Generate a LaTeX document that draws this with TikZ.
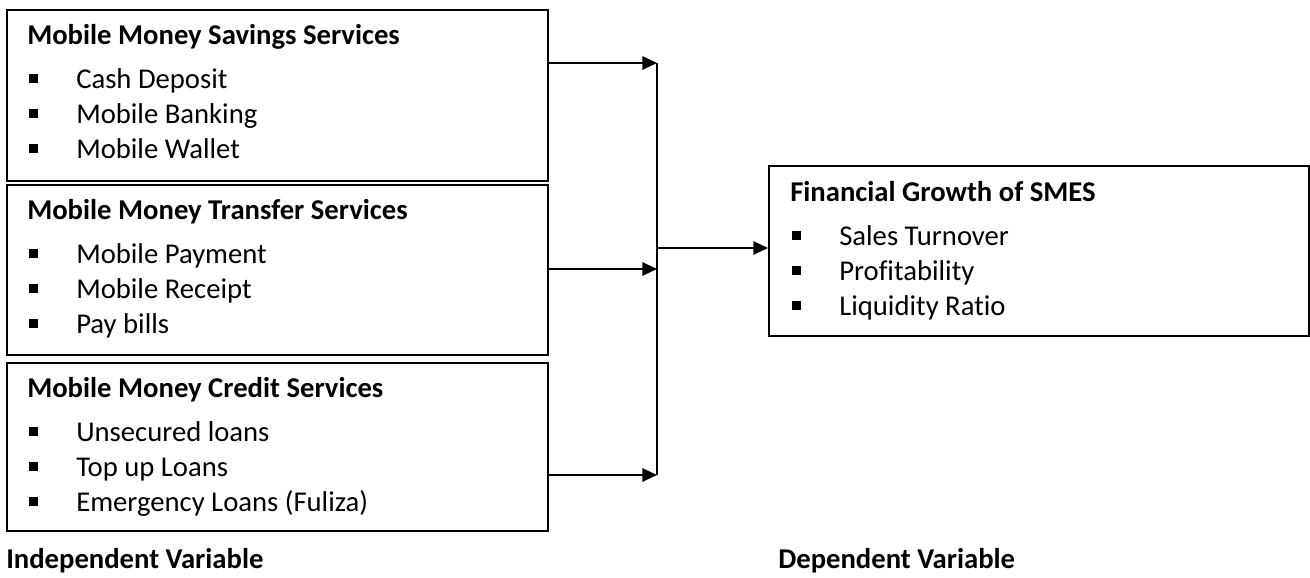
\documentclass[tikz,border=0pt]{standalone}
\usepackage{fontspec}
\setmainfont{Carlito}[Ligatures=NoCommon]
\usetikzlibrary{positioning,arrows.meta}

\newcommand{\sqbul}{\makebox[35.25pt][l]{\rule[3.5pt]{6.75pt}{6.75pt}}}

\begin{document}
\begin{tikzpicture}[
    x=0.75pt, y=-0.75pt,
    every node/.style={font=\fontsize{21.5}{26}\selectfont, inner sep=0pt},
    box/.style={draw, line width=1.4pt, minimum width=541*0.75pt, anchor=north west},
    head/.style={anchor=base west, font=\fontsize{21.5}{26}\selectfont\bfseries},
    item/.style={anchor=base west},
    link/.style={line width=1.5pt, -{Triangle[length=11pt, width=10pt]}}]
  \useasboundingbox (0,0) rectangle (1310,578);
  % left boxes
  \node[box, minimum height=171*0.75pt] (savings) at (6,9) {};
  \node[head] (savingshead) at ([shift={(21,35)}]savings.north west) {Mobile Money Savings Services};
  \foreach \t [count=\i] in {Cash Deposit, Mobile Banking, Mobile Wallet}
    \node[item] (savings-\i) at ([shift={(23,44+35*\i)}]savings.north west) {\sqbul\t};
  \node[box, minimum height=170*0.75pt] (transfer) at (6,184) {};
  \node[head] (transferhead) at ([shift={(21,35)}]transfer.north west) {Mobile Money Transfer Services};
  \foreach \t [count=\i] in {Mobile Payment, Mobile Receipt, Pay bills}
    \node[item] (transfer-\i) at ([shift={(23,44+35*\i)}]transfer.north west) {\sqbul\t};
  \node[box, minimum height=168*0.75pt] (credit) at (6,362) {};
  \node[head] (credithead) at ([shift={(21,35)}]credit.north west) {Mobile Money Credit Services};
  \foreach \t [count=\i] in {Unsecured loans, Top up Loans, Emergency Loans (Fuliza)}
    \node[item] (credit-\i) at ([shift={(23,44+35*\i)}]credit.north west) {\sqbul\t};
  % right box
  \node[box, minimum width=540*0.75pt, minimum height=170*0.75pt] (growth) at (768,165) {};
  \node[head] (growthhead) at ([shift={(22,36)}]growth.north west) {Financial Growth of SMES};
  \foreach \t [count=\i] in {Sales Turnover, Profitability, Liquidity Ratio}
    \node[item] (growth-\i) at ([shift={(24,45+35*\i)}]growth.north west) {\sqbul\t};
  % junction
  \coordinate (jtop) at (657,63);
  \coordinate (jmid) at (657,269);
  \coordinate (jbot) at (657,475);
  \coordinate (jout) at (657,248);
  \draw[line width=1pt] (jtop) -- (jbot);
  \draw[link] (savings.east |- jtop) -- (jtop);
  \draw[link] (transfer.east |- jmid) -- (jmid);
  \draw[link] (credit.east |- jbot) -- (jbot);
  \draw[link] (jout) -- (jout -| growth.west);
  % captions
  \node[head] (indep) at (6,568) {Independent Variable};
  \node[head] (dep) at (778,568) {Dependent Variable};
\end{tikzpicture}
\end{document}
